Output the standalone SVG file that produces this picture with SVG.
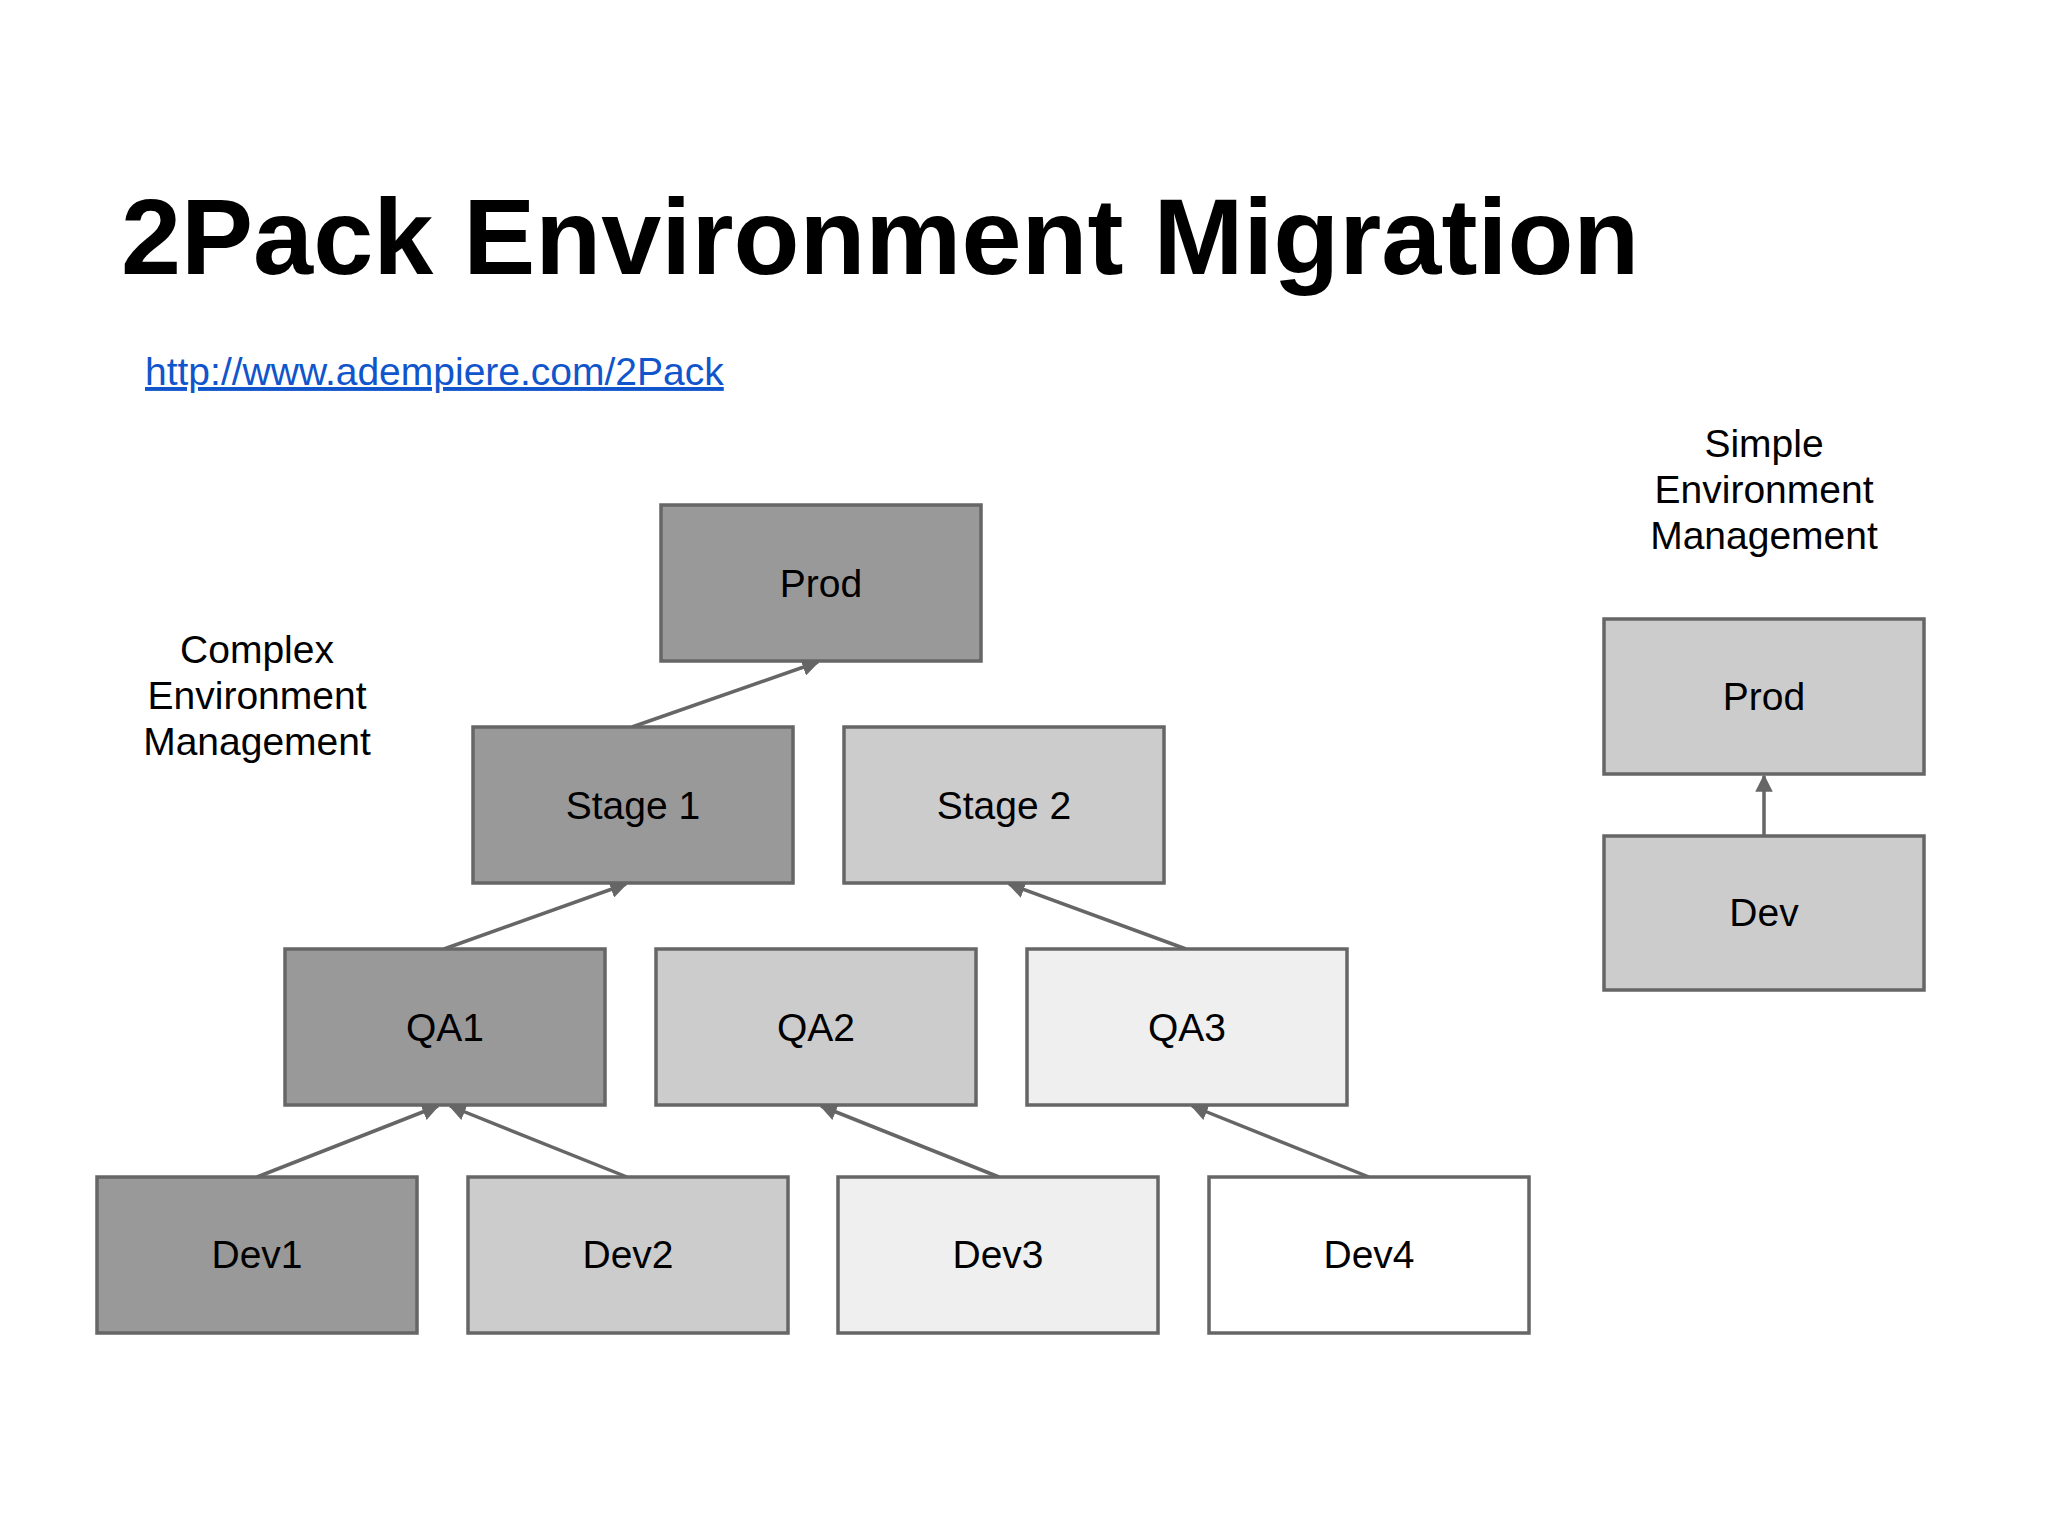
<svg xmlns="http://www.w3.org/2000/svg" width="2048" height="1536" viewBox="0 0 2048 1536">
<style>
text{font-family:"Liberation Sans",Arial,sans-serif}
.b{stroke:#666666;stroke-width:3.5}
.d{fill:#999999}.m{fill:#cccccc}.l{fill:#efefef}.w{fill:#ffffff}
.t{font-size:39px;fill:#000;text-anchor:middle}
.c{stroke:#666666;stroke-width:3.5;fill:none;marker-end:url(#a)}
</style>
<defs><marker id="a" viewBox="0 0 10 10" refX="9" refY="5" markerWidth="5" markerHeight="5" orient="auto" markerUnits="strokeWidth"><path d="M0,0L10,5L0,10z" fill="#666666"/></marker></defs>
<rect width="2048" height="1536" fill="#fff"/>
<text x="121" y="274" font-size="108" font-weight="bold">2Pack Environment Migration</text>
<text x="145" y="385" font-size="39" fill="#1155cc" text-decoration="underline">http://www.adempiere.com/2Pack</text>
<text class="t"><tspan x="257" y="663">Complex</tspan><tspan x="257" y="709">Environment</tspan><tspan x="257" y="755">Management</tspan></text>
<text class="t"><tspan x="1764" y="457">Simple</tspan><tspan x="1764" y="503">Environment</tspan><tspan x="1764" y="549">Management</tspan></text>
<g id="connectors">
<line class="c" x1="632" y1="727" x2="818" y2="662"/>
<line class="c" x1="444" y1="949" x2="626" y2="884"/>
<line class="c" x1="1186" y1="949" x2="1009" y2="884"/>
<line class="c" x1="257" y1="1177" x2="438" y2="1106"/>
<line class="c" x1="627" y1="1177" x2="450" y2="1106"/>
<line class="c" x1="999" y1="1177" x2="821" y2="1106"/>
<line class="c" x1="1369" y1="1177" x2="1192" y2="1106"/>
<line class="c" x1="1764" y1="836" x2="1764" y2="776"/>
</g>
<g id="prod"><rect class="b d" x="661" y="505" width="320" height="156"/><text class="t" x="821" y="597">Prod</text></g>
<g id="stage1"><rect class="b d" x="473" y="727" width="320" height="156"/><text class="t" x="633" y="819">Stage 1</text></g>
<g id="stage2"><rect class="b m" x="844" y="727" width="320" height="156"/><text class="t" x="1004" y="819">Stage 2</text></g>
<g id="qa1"><rect class="b d" x="285" y="949" width="320" height="156"/><text class="t" x="445" y="1041">QA1</text></g>
<g id="qa2"><rect class="b m" x="656" y="949" width="320" height="156"/><text class="t" x="816" y="1041">QA2</text></g>
<g id="qa3"><rect class="b l" x="1027" y="949" width="320" height="156"/><text class="t" x="1187" y="1041">QA3</text></g>
<g id="dev1"><rect class="b d" x="97" y="1177" width="320" height="156"/><text class="t" x="257" y="1268">Dev1</text></g>
<g id="dev2"><rect class="b m" x="468" y="1177" width="320" height="156"/><text class="t" x="628" y="1268">Dev2</text></g>
<g id="dev3"><rect class="b l" x="838" y="1177" width="320" height="156"/><text class="t" x="998" y="1268">Dev3</text></g>
<g id="dev4"><rect class="b w" x="1209" y="1177" width="320" height="156"/><text class="t" x="1369" y="1268">Dev4</text></g>
<g id="sprod"><rect class="b m" x="1604" y="619" width="320" height="155"/><text class="t" x="1764" y="710">Prod</text></g>
<g id="sdev"><rect class="b m" x="1604" y="836" width="320" height="154"/><text class="t" x="1764" y="926">Dev</text></g>
</svg>
